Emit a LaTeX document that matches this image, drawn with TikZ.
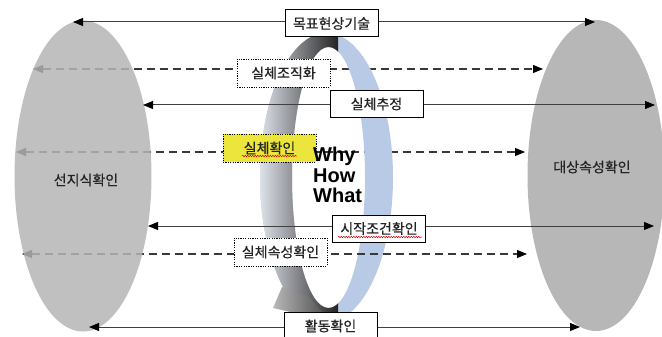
\documentclass[tikz,border=0pt]{standalone}
\usepackage{fontspec}
\setmainfont{Liberation Sans}
\newfontfamily\kr[FakeBold=0.35]{Noto Sans CJK KR}
\usetikzlibrary{arrows.meta,shapes.geometric,decorations.pathmorphing}
\definecolor{ringblue}{RGB}{185,202,230}
\definecolor{ellL}{RGB}{181,181,181}
\definecolor{ellR}{RGB}{183,183,183}
\definecolor{boxyellow}{RGB}{236,230,60}
\definecolor{txt}{RGB}{35,35,35}
\definecolor{grayL}{RGB}{224,228,236}
\definecolor{grayM}{RGB}{130,135,145}
\definecolor{grayD}{RGB}{35,35,35}
\tikzset{
 biarrow/.style={line width=1pt, black!75, {Triangle[length=10pt,width=8pt,color=black]}-{Triangle[length=10pt,width=8pt,color=black]}},
 dasharrow/.style={line width=1.1pt, black!78, dash pattern=on 8pt off 5pt, {Triangle[length=10pt,width=8pt,color=black]}-{Triangle[length=10pt,width=8pt,color=black]}},
 solidbox/.style={draw=black, line width=1pt, fill=white, minimum width=93pt, minimum height=27pt, inner sep=0pt, font=\kr\fontsize{14}{16}\selectfont, text=txt},
 dotbox/.style={solidbox, dash pattern=on 1.2pt off 1.2pt, line width=0.9pt, minimum height=28pt},
 ell/.style={ellipse, inner sep=0pt, minimum width=137pt, minimum height=311pt},
 lbl/.style={font=\kr\fontsize{14}{16}\selectfont, text=txt, inner sep=0pt},
 whyfont/.style={font=\fontsize{20}{20}\selectfont\bfseries, inner sep=0pt, anchor=base west},
 squiggle/.style={red!85!black, line width=0.5pt, decorate, decoration={snake, amplitude=0.7pt, segment length=2.5pt}}
}
\newcommand\myring{(393,177.5) arc[start angle=0,end angle=360,x radius=66.5pt,y radius=144.5pt] -- cycle (365,177.5) arc[start angle=360,end angle=0,x radius=36.5pt,y radius=130.5pt] -- cycle}
\begin{document}
\begin{tikzpicture}[x=1pt,y=-1pt]
\useasboundingbox (0,0) rectangle (662,337);
% end points
\coordinate (a1l) at (73,22);   \coordinate (a1r) at (595,22);
\coordinate (a2l) at (33,69);   \coordinate (a2r) at (543,69);
\coordinate (a3l) at (143,105); \coordinate (a3r) at (655,105);
\coordinate (a4l) at (16,152);  \coordinate (a4r) at (525,152);
\coordinate (a5l) at (148,226); \coordinate (a5r) at (654,226);
\coordinate (a6l) at (22,254);  \coordinate (a6r) at (527,254);
\coordinate (a7l) at (89,327);  \coordinate (a7r) at (580,327);
% dashed lines behind the ring
\draw[dasharrow] (a2l) -- (a2r);
\draw[dasharrow] (a4l) -- (a4r);
% ring
\begin{scope}
 \clip \myring;
 \fill[ringblue] (250,25) rectangle (400,330);
\end{scope}
\begin{scope}
 \clip (250,25) rectangle (338,330);
 \clip \myring;
 \shade[left color=grayL, middle color=grayM, right color=grayD] (259,25) rectangle (338,330);
\end{scope}
\shade[left color=gray!55, middle color=black!55, right color=black!75] (282,287) -- (273,308) -- (334,322) -- (319,309) -- (309,297) -- cycle;
\draw[dasharrow] (a6l) -- (a6r);
% ellipses
\node[ell, fill=ellL, fill opacity=0.85] (L) at (83,176) {};
\node[ell, fill=ellR] (R) at (596,175.5) {};
\node[lbl] (Lt) at (86,180) {선지식확인};
\node[lbl] (Rt) at (592,167) {대상속성확인};
% solid lines
\draw[biarrow] (a1l) -- (a1r);
\draw[biarrow] (a3l) -- (a3r);
\draw[biarrow] (a5l) -- (a5r);
\draw[biarrow] (a7l) -- (a7r);
% boxes
\node[solidbox] (b1) at (331.5,23.5) {목표현상기술};
\node[dotbox] (b2) at (283.5,73) {실체조직화};
\node[solidbox] (b3) at (376.5,104) {실체추정};
\node[dotbox, fill=boxyellow] (b4) at (269.5,148) {실체확인};
\node[solidbox] (b5) at (379,228.5) {시작조건확인};
\node[dotbox] (b6) at (280.5,252) {실체속성확인};
\node[solidbox, minimum height=28pt] (b7) at (330.5,326) {활동확인};
\draw[squiggle] (242,156) -- (297,156);
\draw[squiggle] (338,237) -- (422,237);
% why how what
\node[whyfont] (w1) at (313,161.5) {Why};
\node[whyfont] (w2) at (313,182) {How};
\node[whyfont] (w3) at (313,202) {What};
\end{tikzpicture}
\end{document}
